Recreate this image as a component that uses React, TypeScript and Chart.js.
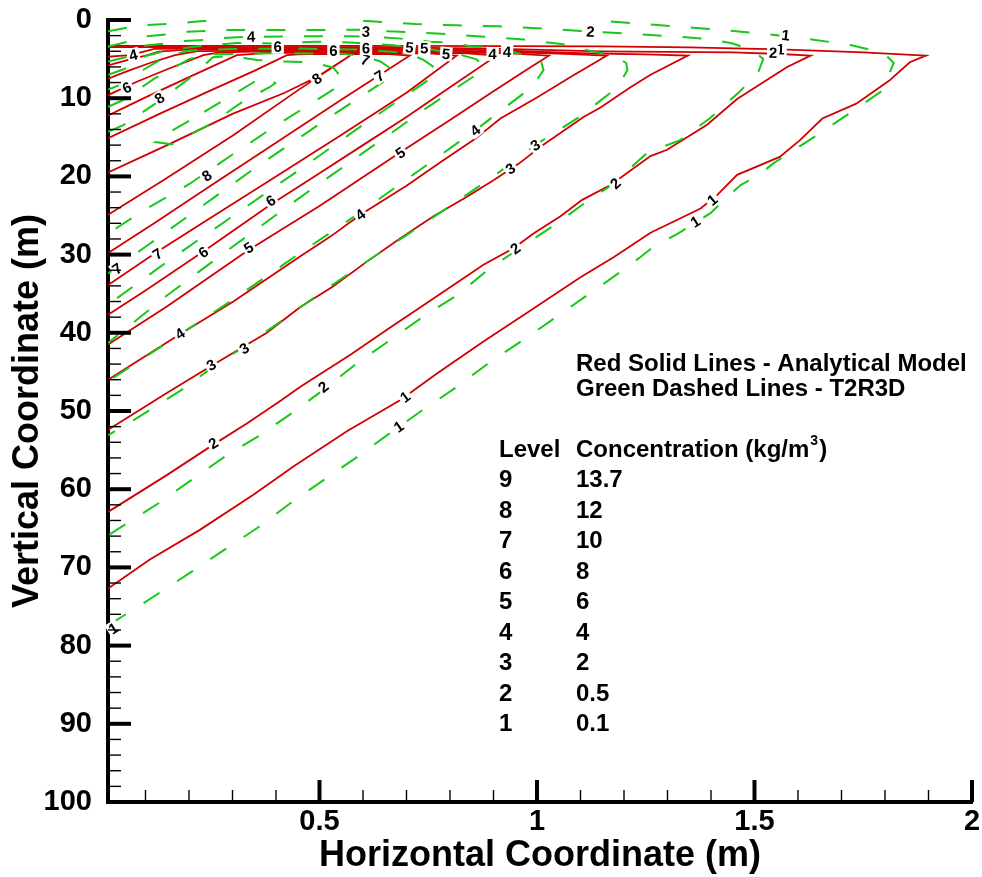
import React, { useEffect, useRef } from "react";
import { Chart, registerables } from "chart.js";

Chart.register(...registerables);

type Pt = [number, number];

// ---------- Analytical model contours (red, solid) ----------
const redL1: Pt[] = [[0.014,72.7],[0.11,69.0],[0.225,65.2],[0.348,60.7],[0.44,57.1],[0.563,52.6],[0.686,48.6],[0.77,45.2],[0.877,41.1],[0.992,36.9],[1.1,32.9],[1.177,30.3],[1.261,27.2],[1.376,24.1],[1.414,22.4],[1.46,19.8],[1.558,17.5],[1.604,15.4],[1.656,12.6],[1.734,10.7],[1.81,7.75],[1.857,5.4],[1.894,4.56],[1.75,4.15],[1.56,3.75],[1.35,3.5],[1.146,3.38],[0.7,3.32],[0.014,3.3]];
const redL2: Pt[] = [[0.014,62.9],[0.149,58.2],[0.256,54.3],[0.333,51.6],[0.413,48.6],[0.456,46.9],[0.571,42.8],[0.655,39.6],[0.762,35.6],[0.877,31.3],[0.946,29.2],[0.992,27.3],[1.054,25.1],[1.104,23.0],[1.169,21.1],[1.261,17.4],[1.299,16.6],[1.391,13.4],[1.46,10.1],[1.575,6.0],[1.629,4.56],[1.56,4.35],[1.45,4.15],[1.146,4.0],[0.9,3.65],[0.6,3.48],[0.014,3.45]];
const redL3: Pt[] = [[0.014,52.4],[0.149,47.7],[0.249,44.3],[0.379,40.0],[0.456,36.7],[0.53,34.1],[0.609,30.9],[0.686,27.9],[0.762,25.1],[0.839,22.6],[0.9,20.5],[0.96,18.3],[1.008,16.2],[1.107,12.4],[1.146,11.2],[1.215,8.6],[1.261,7.0],[1.347,4.56],[1.25,4.4],[1.1,4.25],[0.9,3.85],[0.6,3.62],[0.3,3.6],[0.12,3.7],[0.085,4.2],[0.064,4.5],[0.04,4.6],[0.014,4.7]];
const redL4: Pt[] = [[0.014,46.0],[0.179,40.2],[0.302,36.0],[0.456,30.2],[0.525,27.7],[0.594,24.9],[0.7,21.2],[0.778,18.2],[0.858,15.2],[0.916,12.6],[1.0,9.9],[1.08,7.2],[1.16,4.56],[1.05,4.3],[0.8,3.9],[0.5,3.76],[0.2,3.76],[0.13,4.05],[0.105,4.5],[0.06,5.1],[0.014,5.8]];
const redL5: Pt[] = [[0.014,41.5],[0.15,36.6],[0.337,29.4],[0.5,23.8],[0.686,16.9],[0.8,12.8],[0.9,9.1],[0.97,6.6],[1.027,4.56],[0.95,4.3],[0.7,3.95],[0.4,3.9],[0.22,3.98],[0.168,4.5],[0.11,5.5],[0.06,6.5],[0.014,7.5]];
const redL6: Pt[] = [[0.014,37.7],[0.1,34.6],[0.233,29.6],[0.388,23.6],[0.5,19.6],[0.6,16.0],[0.7,12.4],[0.8,8.6],[0.907,4.56],[0.84,4.25],[0.6,4.05],[0.35,4.04],[0.27,4.15],[0.233,4.5],[0.15,6.3],[0.08,7.9],[0.014,9.6]];
const redL7: Pt[] = [[0.014,33.9],[0.128,29.6],[0.25,25.3],[0.4,20.0],[0.55,14.7],[0.7,9.3],[0.815,4.56],[0.76,4.3],[0.55,4.19],[0.38,4.2],[0.31,4.5],[0.2,7.3],[0.1,9.9],[0.014,12.2]];
const redL8: Pt[] = [[0.014,29.8],[0.12,26.0],[0.241,21.5],[0.4,15.7],[0.55,10.2],[0.707,4.56],[0.66,4.36],[0.5,4.34],[0.45,4.4],[0.425,4.5],[0.35,6.5],[0.25,9.0],[0.132,12.0],[0.014,15.1]];
const redL9: Pt[] = [[0.014,24.9],[0.141,20.5],[0.3,14.8],[0.45,9.0],[0.57,4.56],[0.494,7.3],[0.42,9.3],[0.3,12.0],[0.15,16.0],[0.014,19.5]];

// ---------- T2R3D contours (green, dashed) ----------
const greenL1: Pt[] = [[1.17,0.2],[1.254,0.55],[1.346,0.92],[1.422,1.25],[1.514,1.72],[1.622,2.4],[1.721,3.2],[1.797,4.2],[1.82,5.5],[1.805,7.5],[1.79,9.2],[1.714,12.1],[1.636,15.0],[1.544,18.3],[1.506,20.0],[1.468,21.1],[1.43,23.0],[1.399,24.7],[1.353,26.3],[1.318,27.5],[1.272,28.8],[1.238,30.3],[1.2,31.9],[1.123,34.9],[1.046,37.9],[0.969,40.9],[0.893,43.7],[0.816,46.9],[0.739,49.8],[0.663,52.8],[0.586,55.9],[0.51,58.8],[0.433,61.8],[0.356,65.0],[0.28,67.8],[0.202,70.7],[0.095,74.6],[0.014,77.4]];
const greenL2a: Pt[] = [[0.014,1.45],[0.058,0.98],[0.104,0.64],[0.15,0.52],[0.2,0.3],[0.25,0.05]];
const greenL2: Pt[] = [[0.6,0.1],[0.72,0.52],[0.815,0.68],[0.91,0.81],[1.0,1.05],[1.1,1.4],[1.2,1.72],[1.3,2.05],[1.39,2.4],[1.45,3.0],[1.5,4.0],[1.52,5.0],[1.51,6.5],[1.49,7.8],[1.465,9.2],[1.399,12.5],[1.328,15.4],[1.255,16.9],[1.174,21.0],[1.105,23.6],[1.046,26.0],[0.965,29.0],[0.893,31.7],[0.816,35.2],[0.739,37.9],[0.663,40.9],[0.586,43.9],[0.509,47.3],[0.436,50.3],[0.36,53.2],[0.283,55.8],[0.206,58.8],[0.13,61.8],[0.014,65.9]];
const greenL3: Pt[] = [[0.014,3.4],[0.058,2.8],[0.1,2.1],[0.15,1.85],[0.19,1.5],[0.24,1.4],[0.29,1.28],[0.4,1.28],[0.5,1.28],[0.6,1.25],[0.66,1.45],[0.71,1.55],[0.78,1.75],[0.87,2.1],[0.97,2.5],[1.06,3.1],[1.13,4.05],[1.175,4.5],[1.205,5.5],[1.208,6.4],[1.185,8.6],[1.1,12.3],[0.996,16.0],[0.9,20.0],[0.8,23.8],[0.7,27.5],[0.6,31.2],[0.5,35.0],[0.417,38.3],[0.34,41.3],[0.267,43.9],[0.183,47.3],[0.072,51.2],[0.014,53.1]];
const greenL4: Pt[] = [[0.014,5.3],[0.058,4.7],[0.1,3.25],[0.145,3.0],[0.19,2.7],[0.24,2.55],[0.29,2.26],[0.33,2.17],[0.43,2.1],[0.52,2.07],[0.61,2.1],[0.68,2.35],[0.755,2.77],[0.8,2.9],[0.85,3.4],[0.89,3.5],[0.96,4.3],[1.01,5.4],[1.015,6.4],[0.99,8.5],[0.858,14.1],[0.7,20.4],[0.594,24.6],[0.45,30.0],[0.3,35.8],[0.179,40.2],[0.014,46.2]];
const greenL5: Pt[] = [[0.014,7.0],[0.05,6.3],[0.1,4.6],[0.15,3.9],[0.215,3.4],[0.31,2.95],[0.4,3.0],[0.49,2.77],[0.58,2.9],[0.67,3.24],[0.76,3.8],[0.82,4.4],[0.86,5.0],[0.877,5.75],[0.86,7.0],[0.75,11.1],[0.6,17.0],[0.45,22.9],[0.3,29.0],[0.15,35.2],[0.014,41.3]];
const greenL6: Pt[] = [[0.014,8.9],[0.05,8.1],[0.1,6.2],[0.15,4.6],[0.2,3.9],[0.3,3.7],[0.45,3.65],[0.6,3.8],[0.7,4.2],[0.739,5.1],[0.773,6.4],[0.76,7.3],[0.7,9.6],[0.6,13.4],[0.45,19.3],[0.3,25.1],[0.15,30.9],[0.014,36.4]];
const greenL7: Pt[] = [[0.014,11.1],[0.05,10.2],[0.12,7.5],[0.2,5.0],[0.25,4.4],[0.4,4.25],[0.55,4.3],[0.6,4.6],[0.64,5.3],[0.674,6.6],[0.66,7.4],[0.5,13.3],[0.35,19.0],[0.2,25.0],[0.1,29.0],[0.014,32.4]];
const greenL8: Pt[] = [[0.014,14.3],[0.05,13.4],[0.12,10.8],[0.2,7.5],[0.255,4.77],[0.295,4.6],[0.357,5.1],[0.4,5.3],[0.483,5.4],[0.532,6.1],[0.555,7.7],[0.54,8.6],[0.4,13.5],[0.3,17.2],[0.2,21.0],[0.1,24.2],[0.014,27.3]];
const greenL9: Pt[] = [[0.2,12.9],[0.15,14.5],[0.122,15.6],[0.16,15.9],[0.25,13.3],[0.33,10.2],[0.385,8.6],[0.398,8.09],[0.38,7.37],[0.357,7.67],[0.3,9.6],[0.2,12.9]];

// ---------- contour labels: [text, x, y] ----------
const contourLabels: [string, number, number][] = [
  ["1",0.697,48.2],["1",1.403,23.0],["1",1.56,3.75],["2",1.543,4.2],
  ["2",0.256,54.1],["2",0.95,29.2],["2",1.18,20.9],
  ["3",0.251,44.1],["3",0.939,19.0],
  ["4",0.179,40.1],["4",0.594,24.9],
  ["5",0.337,29.1],["5",0.686,17.0],
  ["6",0.233,29.7],["6",0.388,23.1],
  ["7",0.128,29.9],
  ["8",0.241,19.9],["8",0.132,10.0],["8",0.494,7.5],
  ["6",0.057,8.65],["4",0.072,4.47],
  ["7",0.638,7.16],["7",0.605,5.1],
  ["6",0.404,3.41],["6",0.532,3.92],["6",0.607,3.6],["5",0.707,3.49],["5",0.741,3.6],["5",0.791,4.35],["4",0.898,4.35],["4",0.931,4.05],
  ["4",0.343,2.13],["3",0.607,1.5],["2",1.123,1.5],["1",1.572,1.92],
  ["3",0.327,42.0],["2",0.509,46.9],["1",0.682,52.0],["1",1.364,25.8],["3",0.996,16.0],["4",0.858,14.1],
  ["7",0.035,31.8],["1",0.026,77.8],
];

// ---------- legend table ----------
const legendLevels = ["9","8","7","6","5","4","3","2","1"];
const legendConc = ["13.7","12","10","8","6","4","2","0.5","0.1"];

// ---------- axes ----------
const xMajorTicks = [0.5, 1, 1.5, 2];
const yMajorTicks = [0, 10, 20, 30, 40, 50, 60, 70, 80, 90, 100];

const FONT = '"Liberation Sans", Arial, Helvetica, sans-serif';
const RED = "#d20000";
const GREEN = "#18c818";
const W = 982;
const H = 877;

export default function App() {
  const ref = useRef<HTMLCanvasElement>(null);

  useEffect(() => {
    document.body.style.margin = "0";
    document.body.style.overflow = "hidden";
    const canvas = ref.current!;
    const redSeries = [redL1, redL2, redL3, redL4, redL5, redL6, redL7, redL8, redL9];
    const greenSeries = [greenL1, greenL2a, greenL2, greenL3, greenL4, greenL5, greenL6, greenL7, greenL8, greenL9];
    const toXY = (s: Pt[]) => s.map(([x, y]) => ({ x, y }));
    const base = { showLine: true, pointRadius: 0, pointHoverRadius: 0, fill: false, tension: 0 };
    const datasets: any[] = [
      ...greenSeries.map((s) => ({ ...base, data: toXY(s), borderColor: GREEN, borderWidth: 2, borderDash: [19, 21] })),
      ...redSeries.map((s) => ({ ...base, data: toXY(s), borderColor: RED, borderWidth: 1.8 })),
    ];

    const overlay = {
      id: "overlay",
      afterDatasetsDraw(chart: any) {
        const ctx = chart.ctx as CanvasRenderingContext2D;
        const xs = chart.scales.x, ys = chart.scales.y;
        const all = [...redSeries, ...greenSeries].map((s) => s.map(([x, y]) => [xs.getPixelForValue(x), ys.getPixelForValue(y)]));
        ctx.save();
        ctx.font = `bold 15px ${FONT}`;
        ctx.textAlign = "center";
        ctx.textBaseline = "middle";
        for (const [t, lx, ly] of contourLabels) {
          const px = xs.getPixelForValue(lx), py = ys.getPixelForValue(ly);
          let best = Infinity, ang = 0;
          for (const s of all) {
            for (let i = 0; i < s.length - 1; i++) {
              const [x1, y1] = s[i], [x2, y2] = s[i + 1];
              const dx = x2 - x1, dy = y2 - y1, L = dx * dx + dy * dy;
              if (!L) continue;
              let u = ((px - x1) * dx + (py - y1) * dy) / L;
              u = Math.max(0, Math.min(1, u));
              const qx = x1 + u * dx, qy = y1 + u * dy;
              const d = (px - qx) ** 2 + (py - qy) ** 2;
              if (d < best) { best = d; ang = Math.atan2(dy, dx); }
            }
          }
          if (ang > Math.PI / 2) ang -= Math.PI;
          if (ang < -Math.PI / 2) ang += Math.PI;
          const w = ctx.measureText(t).width;
          ctx.save();
          ctx.translate(px, py);
          ctx.rotate(ang);
          ctx.fillStyle = "#fff";
          ctx.fillRect(-w / 2 - 2, -7, w + 4, 14);
          ctx.fillStyle = "#000";
          ctx.fillText(t, 0, 1);
          ctx.restore();
        }
        ctx.restore();
      },
      afterDraw(chart: any) {
        const ctx = chart.ctx as CanvasRenderingContext2D;
        const xs = chart.scales.x, ys = chart.scales.y;
        const a = chart.chartArea;
        ctx.save();
        ctx.strokeStyle = "#000";
        ctx.lineCap = "butt";
        const seg = (x1: number, y1: number, x2: number, y2: number, lw: number) => {
          ctx.lineWidth = lw;
          ctx.beginPath();
          ctx.moveTo(x1, y1);
          ctx.lineTo(x2, y2);
          ctx.stroke();
        };
        for (const v of yMajorTicks) { const p = ys.getPixelForValue(v); seg(a.left, p, a.left + 23, p, 4); }
        for (let v = 2; v < 100; v += 2) { if (v % 10 === 0) continue; const p = ys.getPixelForValue(v); seg(a.left, p, a.left + 13, p, 1.4); }
        for (const v of xMajorTicks) { const p = xs.getPixelForValue(v); seg(p, a.bottom, p, a.bottom - 22, 4); }
        for (let k = 1; k < 20; k++) { if (k % 5 === 0) continue; const p = xs.getPixelForValue(k / 10); seg(p, a.bottom, p, a.bottom - 12, 1.4); }

        ctx.fillStyle = "#000";
        ctx.font = `bold 36px ${FONT}`;
        ctx.textAlign = "center";
        ctx.textBaseline = "middle";
        ctx.fillText("Horizontal Coordinate (m)", (a.left + a.right) / 2, 856);
        ctx.save();
        ctx.translate(28, (a.top + a.bottom) / 2);
        ctx.rotate(-Math.PI / 2);
        ctx.fillText("Vertical Coordinate (m)", 0, 0);
        ctx.restore();

        ctx.textAlign = "left";
        ctx.font = `bold 24px ${FONT}`;
        ctx.fillText("Red Solid Lines - Analytical Model", 576, 364);
        ctx.fillText("Green Dashed Lines - T2R3D", 576, 389);
        ctx.fillText("Level", 499, 450);
        const head = "Concentration (kg/m";
        ctx.fillText(head, 576, 450);
        const hw = ctx.measureText(head).width;
        ctx.font = `bold 14px ${FONT}`;
        ctx.fillText("3", 576 + hw + 1, 441);
        const sw = ctx.measureText("3").width;
        ctx.font = `bold 24px ${FONT}`;
        ctx.fillText(")", 576 + hw + sw + 2, 450);
        legendLevels.forEach((lv, i) => {
          const y = 480.5 + i * 30.5;
          ctx.fillText(lv, 499, y);
          ctx.fillText(legendConc[i], 576, y);
        });
        ctx.restore();
      },
    };

    const tickFont = { family: FONT, size: 29, weight: "bold" as const };
    const chart = new Chart(canvas, {
      type: "scatter",
      data: { datasets },
      options: {
        animation: false,
        responsive: false,
        devicePixelRatio: 1,
        events: [],
        layout: { padding: { left: 0, top: 20, right: 10, bottom: 0 } },
        plugins: { legend: { display: false }, tooltip: { enabled: false }, title: { display: false } },
        scales: {
          x: {
            type: "linear",
            min: 0.0138,
            max: 2,
            grid: { display: false, drawTicks: false },
            border: { display: true, color: "#000", width: 4 },
            ticks: { font: { ...tickFont, lineHeight: 1.2 }, color: "#000", padding: 3, maxRotation: 0, autoSkip: false, callback: (v: any) => String(v) },
            afterBuildTicks: (s: any) => { s.ticks = xMajorTicks.map((v) => ({ value: v })); },
            afterFit: (s: any) => { s.height = 75; s.paddingLeft = 0; s.paddingRight = 0; },
          },
          y: {
            type: "linear",
            reverse: true,
            min: 0,
            max: 100,
            grid: { display: false, drawTicks: false },
            border: { display: true, color: "#000", width: 4 },
            ticks: { font: { ...tickFont, lineHeight: 1.0 }, color: "#000", padding: 16, autoSkip: false, callback: (v: any) => String(v) },
            afterBuildTicks: (s: any) => { s.ticks = yMajorTicks.map((v) => ({ value: v })); },
            afterFit: (s: any) => { s.width = 108; s.paddingTop = 0; s.paddingBottom = 0; },
          },
        },
      } as any,
      plugins: [overlay],
    });
    return () => chart.destroy();
  }, []);

  return <canvas ref={ref} width={W} height={H} style={{ display: "block", width: W, height: H }} />;
}
